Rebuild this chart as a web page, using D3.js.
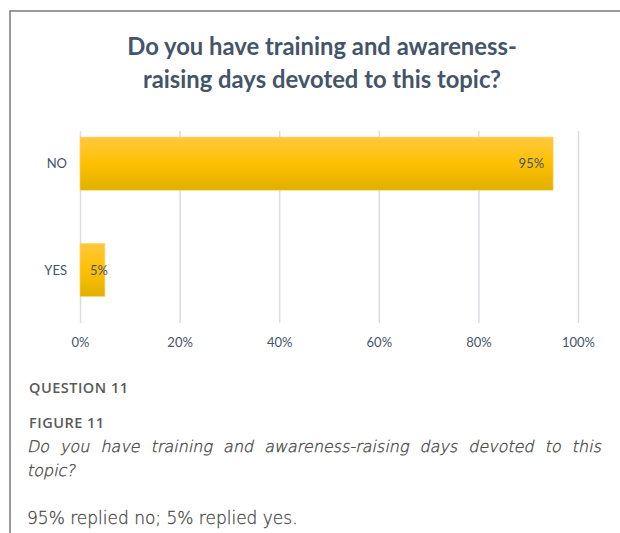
<!DOCTYPE html>
<html>
<head>
<meta charset="utf-8">
<script src="https://cdn.jsdelivr.net/npm/d3@7"></script>
<style>
  html, body { margin: 0; padding: 0; background: #fff; }
  svg { display: block; }
</style>
</head>
<body>
<svg id="chart" width="620" height="533"></svg>
<script>
const categories = ["NO", "YES"];
const values = [95, 5];
const tickValues = [0, 20, 40, 60, 80, 100];
const titleLines = ["Do you have training and awareness-", "raising days devoted to this topic?"];
const captionLines = [
  "Do you have training and awareness-raising days devoted to this",
  "topic?"
];

const TEXT_COLOR = "#44546a";
const GRID_COLOR = "#d9dde3";
const CAPTION_COLOR = "#4a4a4a";
const CAPTION_FONT = "'DejaVu Sans', 'Open Sans', sans-serif";

const svg = d3.select("#chart");

// gradient for the bars
const defs = svg.append("defs");
const grad = defs.append("linearGradient")
  .attr("id", "barGrad")
  .attr("x1", 0).attr("y1", 0).attr("x2", 0).attr("y2", 1);
grad.append("stop").attr("offset", "0%").attr("stop-color", "#ffc83f");
grad.append("stop").attr("offset", "50%").attr("stop-color", "#ffc000");
grad.append("stop").attr("offset", "100%").attr("stop-color", "#e0b000");

// frame lines
svg.append("path")
  .attr("d", "M10,533 V11 H620")
  .attr("fill", "none")
  .attr("stroke", "#7a7a7a")
  .attr("stroke-width", 1.5);

// title
svg.append("g").selectAll("text")
  .data(titleLines)
  .join("text")
  .attr("x", 322)
  .attr("y", (d, i) => 55 + i * 33)
  .attr("text-anchor", "middle")
  .attr("font-family", "Lato, 'Open Sans', sans-serif")
  .attr("font-weight", 700)
  .attr("font-size", "23.8px")
  .attr("fill", TEXT_COLOR)
  .text(d => d);

const x = d3.scaleLinear().domain([0, 100]).range([80, 578]);
const y = d3.scaleBand()
  .domain(categories)
  .range([110.5, 323.1])
  .paddingInner(0.5)
  .paddingOuter(0.25);

const gridTop = 131, gridBottom = 323;

// gridlines
const grid = svg.append("g")
  .attr("transform", `translate(0,${gridBottom})`)
  .call(d3.axisBottom(x).tickValues(tickValues).tickSize(-(gridBottom - gridTop)).tickFormat(""));
grid.select(".domain").remove();
grid.selectAll("line").attr("stroke", GRID_COLOR).attr("stroke-width", 1.5);

// x tick labels
const xAxis = svg.append("g")
  .attr("transform", `translate(0,${gridBottom})`)
  .call(d3.axisBottom(x).tickValues(tickValues).tickSize(0).tickPadding(15).tickFormat(d => d + "%"));
xAxis.select(".domain").remove();
xAxis.selectAll("text")
  .attr("font-family", "Lato, 'Open Sans', sans-serif")
  .attr("font-size", "13px")
  .attr("fill", TEXT_COLOR);

// bars
svg.append("g").selectAll("rect")
  .data(values)
  .join("rect")
  .attr("x", x(0))
  .attr("y", (d, i) => y(categories[i]))
  .attr("width", d => x(d) - x(0))
  .attr("height", y.bandwidth())
  .attr("fill", "url(#barGrad)")
  .attr("stroke", "#ffd766")
  .attr("stroke-width", 0.6);

// category labels
svg.append("g").selectAll("text")
  .data(categories)
  .join("text")
  .attr("x", 67)
  .attr("y", d => y(d) + y.bandwidth() / 2)
  .attr("dy", "0.35em")
  .attr("text-anchor", "end")
  .attr("font-family", "Lato, 'Open Sans', sans-serif")
  .attr("font-size", "13px")
  .attr("fill", TEXT_COLOR)
  .text(d => d);

// value labels
svg.append("g").selectAll("text")
  .data(values)
  .join("text")
  .attr("x", d => Math.max(x(d) - 9, x(0) + 28))
  .attr("y", (d, i) => y(categories[i]) + y.bandwidth() / 2)
  .attr("dy", "0.35em")
  .attr("text-anchor", "end")
  .attr("font-family", "Lato, 'Open Sans', sans-serif")
  .attr("font-size", "13px")
  .attr("fill", TEXT_COLOR)
  .text(d => d + "%");

// caption headings
svg.append("g").selectAll("text")
  .data(["QUESTION 11", "FIGURE 11"])
  .join("text")
  .attr("x", 29)
  .attr("y", (d, i) => 393 + i * 35)
  .attr("font-family", "'Open Sans', sans-serif")
  .attr("font-weight", 600)
  .attr("font-size", "14.5px")
  .attr("letter-spacing", "0.5px")
  .attr("fill", "#5a5a5a")
  .text(d => d);

// italic caption: light face slanted by hand (no light oblique face installed)
const cap = svg.append("g").selectAll("text")
  .data(captionLines)
  .join("text")
  .attr("transform", (d, i) => `translate(27,${452 + i * 24}) skewX(-12)`)
  .attr("font-family", CAPTION_FONT)
  .attr("font-weight", 200)
  .attr("font-size", "16px")
  .attr("fill", CAPTION_COLOR)
  .attr("stroke", CAPTION_COLOR)
  .attr("stroke-width", 0.35)
  .text(d => d);

// justify the first caption line
cap.filter((d, i) => i === 0).each(function (d) {
  const len = this.getComputedTextLength();
  const gaps = d.split(" ").length - 1;
  d3.select(this).attr("word-spacing", ((601 - 27) - len) / gaps);
});

svg.append("text")
  .attr("x", 27).attr("y", 524)
  .attr("font-family", CAPTION_FONT)
  .attr("font-weight", 200)
  .attr("font-size", "17px")
  .attr("fill", CAPTION_COLOR)
  .attr("stroke", CAPTION_COLOR)
  .attr("stroke-width", 0.3)
  .text("95% replied no; 5% replied yes.");
</script>
</body>
</html>
